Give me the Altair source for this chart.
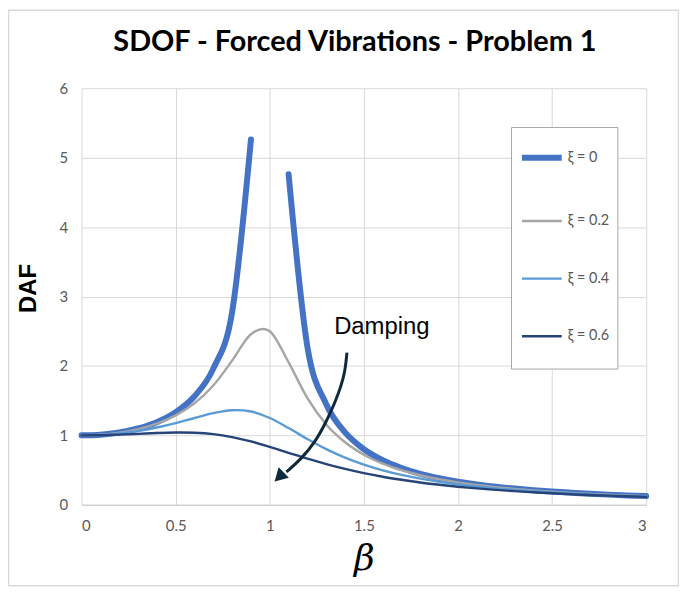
import altair as alt
import pandas as pd

# beta values (step 0.1)
beta = [0.0, 0.1, 0.2, 0.3, 0.4, 0.5, 0.6, 0.7, 0.8, 0.9, 1.0,
        1.1, 1.2, 1.3, 1.4, 1.5, 1.6, 1.7, 1.8, 1.9, 2.0,
        2.1, 2.2, 2.3, 2.4, 2.5, 2.6, 2.7, 2.8, 2.9, 3.0]

# xi = 0 : no point at beta = 1 (resonance), line broken there
daf_0 = [1.0, 1.01, 1.042, 1.099, 1.19, 1.333, 1.563, 1.961, 2.778, 5.263, None,
         4.762, 2.273, 1.449, 1.042, 0.8, 0.641, 0.529, 0.446, 0.383, 0.333,
         0.293, 0.26, 0.233, 0.21, 0.19, 0.174, 0.159, 0.146, 0.135, 0.125]
daf_02 = [1.0, 1.009, 1.038, 1.09, 1.169, 1.288, 1.463, 1.719, 2.076, 2.457, 2.5,
          2.051, 1.536, 1.157, 0.9, 0.721, 0.593, 0.498, 0.425, 0.368, 0.322,
          0.285, 0.254, 0.228, 0.206, 0.187, 0.171, 0.157, 0.144, 0.133, 0.124]
daf_04 = [1.0, 1.007, 1.028, 1.063, 1.113, 1.176, 1.25, 1.32, 1.362, 1.343, 1.25,
          1.105, 0.947, 0.801, 0.678, 0.577, 0.496, 0.43, 0.376, 0.331, 0.294,
          0.263, 0.237, 0.214, 0.195, 0.178, 0.163, 0.15, 0.139, 0.129, 0.12]
daf_06 = [1.0, 1.003, 1.011, 1.022, 1.034, 1.041, 1.038, 1.018, 0.975, 0.912, 0.833,
          0.748, 0.664, 0.586, 0.517, 0.456, 0.404, 0.36, 0.321, 0.289, 0.26,
          0.236, 0.215, 0.196, 0.18, 0.165, 0.153, 0.141, 0.131, 0.122, 0.114]

series_names = ["ξ = 0", "ξ = 0.2", "ξ = 0.4", "ξ = 0.6"]
series_colors = ["#4472C4", "#A5A5A5", "#5B9BD5", "#264478"]
series_widths = [6, 2.4, 2.4, 2.4]

# "Damping" annotation and curved arrow (data coordinates)
note_text = ["Damping"]
note_beta = [1.342]
note_daf = [2.46]
arrow_beta = [1.41, 1.40, 1.378, 1.347, 1.299, 1.241, 1.167, 1.088]
arrow_daf = [2.191, 1.919, 1.704, 1.475, 1.189, 0.902, 0.659, 0.473]
head_beta = [1.05]
head_daf = [0.40]

rows = []
for name, vals in zip(series_names, [daf_0, daf_02, daf_04, daf_06]):
    seg = 0
    for b, v in zip(beta, vals):
        if v is None:
            seg += 1
            continue
        rows.append({"beta": b, "DAF": v, "series": name, "seg": f"{name}-{seg}"})
df = pd.DataFrame(rows)

x_scale = alt.Scale(domain=[0, 3], nice=False)
y_scale = alt.Scale(domain=[0, 6], nice=False)

lines = (
    alt.Chart(df)
    .mark_line(interpolate="cardinal", strokeCap="round", strokeJoin="round")
    .encode(
        x=alt.X(
            "beta:Q",
            scale=x_scale,
            title="β",
            axis=alt.Axis(
                values=[0, 0.5, 1, 1.5, 2, 2.5, 3],
                format="~g",
                labelPadding=14,
                titleFont="DejaVu Serif",
                titleFontStyle="italic",
                titleFontWeight="normal",
                titleFontSize=36,
                titleColor="black",
                titleBaseline="alphabetic",
                titleY=65,
                domain=True,
                domainColor="#c8c8c8",
                domainWidth=1,
            ),
        ),
        y=alt.Y(
            "DAF:Q",
            scale=y_scale,
            title="DAF",
            axis=alt.Axis(
                values=[0, 1, 2, 3, 4, 5, 6],
                format="d",
                labelPadding=14,
                domain=False,
                titleFont="Liberation Sans",
                titleFontWeight="bold",
                titleFontSize=24,
                titleColor="black",
                titleAngle=270,
                titleAlign="center",
                titleBaseline="middle",
                titleX=-53,
                titleY=201,
            ),
        ),
        color=alt.Color(
            "series:N",
            scale=alt.Scale(domain=series_names, range=series_colors),
            legend=alt.Legend(title=" "),
        ),
        strokeWidth=alt.StrokeWidth(
            "series:N",
            scale=alt.Scale(type="ordinal", domain=series_names, range=series_widths),
            legend=alt.Legend(title=" "),
        ),
        detail="seg:N",
        order="beta:Q",
    )
)

note = (
    alt.Chart(pd.DataFrame({"text": note_text, "beta": note_beta, "DAF": note_daf}))
    .mark_text(font="Liberation Sans", fontSize=24, align="left", baseline="alphabetic", color="black")
    .encode(x=alt.X("beta:Q", scale=x_scale), y=alt.Y("DAF:Q", scale=y_scale), text="text:N")
)

arrow_df = pd.DataFrame({"i": list(range(len(arrow_beta))), "beta": arrow_beta, "DAF": arrow_daf})
arrow = (
    alt.Chart(arrow_df)
    .mark_line(interpolate="basis", color="#0E2A3A", strokeWidth=3)
    .encode(x=alt.X("beta:Q", scale=x_scale), y=alt.Y("DAF:Q", scale=y_scale), order="i:Q")
)
head = (
    alt.Chart(pd.DataFrame({"beta": head_beta, "DAF": head_daf}))
    .mark_point(shape="triangle-up", size=220, filled=True, opacity=1, color="#0E2A3A", angle=226)
    .encode(x=alt.X("beta:Q", scale=x_scale), y=alt.Y("DAF:Q", scale=y_scale))
)

border = (
    alt.Chart(pd.DataFrame({"a": [0]}))
    .mark_rect(fill="white", fillOpacity=0, stroke="#d9d9d9", strokeWidth=1.5)
    .encode(x=alt.value(-73.5), x2=alt.value(600.5), y=alt.value(-78.5), y2=alt.value(500.5))
)

chart = (
    alt.layer(border, lines, arrow, head, note)
    .properties(
        width=568,
        height=419,
        autosize=alt.AutoSizeParams(type="none"),
        padding={"left": 74, "top": 79, "right": 33, "bottom": 82},
        title=alt.TitleParams(
            "SDOF - Forced Vibrations - Problem 1",
            font="Lato",
            fontSize=29,
            fontWeight="bold",
            color="black",
            anchor="middle",
            baseline="alphabetic",
            offset=0,
            dy=71,
            dx=-9,
        ),
    )
    .configure_view(stroke=None)
    .configure_axis(
        labelFont="Lato",
        labelFontSize=15,
        labelColor="#595959",
        gridColor="#d9d9d9",
        gridWidth=1,
        ticks=False,
    )
    .configure_legend(
        orient="none",
        legendX=432,
        legendY=39,
        padding=8,
        rowPadding=30,
        symbolType="stroke",
        symbolSize=1600,
        labelOffset=3,
        labelFont="Lato",
        labelFontSize=14.5,
        labelColor="#595959",
        strokeColor="#a6a6a6",
        fillColor="white",
        titleOrient="bottom",
        titleFontSize=10,
        titlePadding=8,
    )
)

chart.save("out.html", embed_options={"renderer": "svg", "actions": False})
